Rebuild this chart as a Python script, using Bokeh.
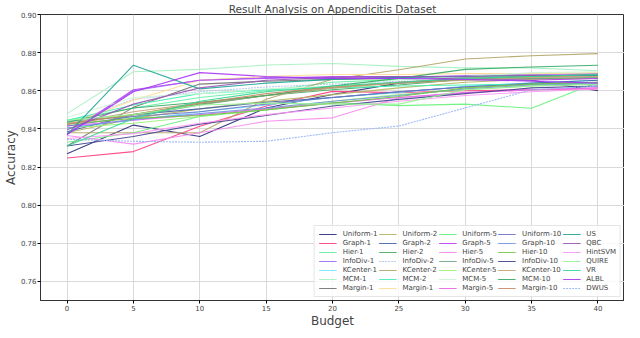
from bokeh.plotting import figure
from bokeh.models import Legend, LegendItem, FixedTicker, Range1d, NumeralTickFormatter
from bokeh.embed import file_html
from bokeh.resources import INLINE

budget = [0, 5, 10, 15, 20, 25, 30, 35, 40]

names = ["Uniform-1", "Graph-1", "Hier-1", "InfoDiv-1", "KCenter-1", "MCM-1", "Margin-1",
         "Uniform-2", "Graph-2", "Hier-2", "InfoDiv-2", "KCenter-2", "MCM-2", "Margin-1",
         "Uniform-5", "Graph-5", "Hier-5", "InfoDiv-5", "KCenter-5", "MCM-5", "Margin-5",
         "Uniform-10", "Graph-10", "Hier-10", "InfoDiv-10", "KCenter-10", "MCM-10", "Margin-10",
         "US", "QBC", "HintSVM", "QUIRE", "VR", "ALBL", "DWUS"]

colors = ["#2a2a7a", "#ff3d80", "#5ef0a0", "#9d6cf2", "#6ee6ff", "#a6f0c0", "#707070",
          "#b4b460", "#4462a8", "#44a85a", "#b0c8ec", "#b3a466", "#44f0b4", "#ffdc90",
          "#66f27a", "#b444f4", "#f488f0", "#72a884", "#96f478", "#ccf4d6", "#e866e8",
          "#7272c4", "#7494e6", "#74c446", "#42428e", "#c4a474", "#34a864", "#c68a64",
          "#22a496", "#9656b6", "#ff96f4", "#96f496", "#34d694", "#a636f4", "#94b4f6"]

acc = [
    [0.827, 0.842, 0.836, 0.851, 0.858, 0.864, 0.866, 0.8655, 0.860],
    [0.8247, 0.8281, 0.8414, 0.852, 0.8597, 0.859, 0.860, 0.8605, 0.861],
    [0.8445, 0.851, 0.8565, 0.860, 0.8645, 0.866, 0.867, 0.8675, 0.8685],
    [0.837, 0.860, 0.8655, 0.867, 0.8665, 0.867, 0.868, 0.8685, 0.869],
    [0.8405, 0.8445, 0.849, 0.8525, 0.8565, 0.859, 0.8625, 0.864, 0.8655],
    [0.848, 0.870, 0.8712, 0.8735, 0.8743, 0.8728, 0.872, 0.872, 0.8705],
    [0.831, 0.8513, 0.8635, 0.865, 0.866, 0.8665, 0.8665, 0.8665, 0.8665],
    [0.838, 0.8455, 0.8505, 0.8545, 0.858, 0.8615, 0.8645, 0.866, 0.8665],
    [0.8385, 0.8475, 0.8505, 0.854, 0.8565, 0.8595, 0.862, 0.864, 0.8655],
    [0.843, 0.8475, 0.853, 0.8575, 0.8605, 0.863, 0.866, 0.8675, 0.868],
    [0.8425, 0.8555, 0.8595, 0.862, 0.8635, 0.865, 0.866, 0.867, 0.8675],
    [0.838, 0.838, 0.838, 0.8555, 0.866, 0.871, 0.8767, 0.8784, 0.8795],
    [0.8445, 0.8525, 0.8585, 0.8605, 0.8615, 0.8625, 0.863, 0.8635, 0.864],
    [0.842, 0.855, 0.8655, 0.8675, 0.8685, 0.8685, 0.869, 0.869, 0.8695],
    [0.833, 0.838, 0.8465, 0.850, 0.8538, 0.8522, 0.853, 0.8508, 0.8645],
    [0.8375, 0.8605, 0.8655, 0.8665, 0.8675, 0.8675, 0.8665, 0.8655, 0.8665],
    [0.8365, 0.832, 0.838, 0.844, 0.8458, 0.8563, 0.859, 0.8605, 0.8615],
    [0.844, 0.8465, 0.8525, 0.8575, 0.8615, 0.8645, 0.866, 0.8665, 0.867],
    [0.8405, 0.843, 0.8465, 0.8505, 0.8545, 0.858, 0.8605, 0.8625, 0.8635],
    [0.846, 0.8565, 0.8585, 0.861, 0.8625, 0.866, 0.8675, 0.8695, 0.870],
    [0.8415, 0.8445, 0.8475, 0.8505, 0.8535, 0.8565, 0.859, 0.8605, 0.8615],
    [0.8415, 0.8465, 0.849, 0.853, 0.8565, 0.8595, 0.862, 0.8635, 0.8645],
    [0.8405, 0.845, 0.848, 0.851, 0.8545, 0.8575, 0.861, 0.863, 0.8635],
    [0.8425, 0.8455, 0.847, 0.850, 0.8535, 0.857, 0.8615, 0.8635, 0.8645],
    [0.831, 0.836, 0.8425, 0.847, 0.852, 0.8555, 0.8585, 0.8615, 0.8625],
    [0.8425, 0.849, 0.8535, 0.8575, 0.8615, 0.864, 0.8655, 0.867, 0.8675],
    [0.8435, 0.851, 0.854, 0.8575, 0.8625, 0.8665, 0.8712, 0.8725, 0.8734],
    [0.8425, 0.8475, 0.8535, 0.8585, 0.862, 0.8645, 0.8665, 0.8675, 0.868],
    [0.837, 0.8734, 0.861, 0.864, 0.866, 0.867, 0.8675, 0.868, 0.868],
    [0.8395, 0.853, 0.8615, 0.8655, 0.867, 0.8675, 0.8675, 0.868, 0.8685],
    [0.835, 0.8375, 0.843, 0.8475, 0.851, 0.8545, 0.8575, 0.8595, 0.861],
    [0.8445, 0.8475, 0.8525, 0.8535, 0.853, 0.853, 0.8605, 0.8625, 0.8635],
    [0.831, 0.8455, 0.8545, 0.8595, 0.8625, 0.8645, 0.8665, 0.8675, 0.8685],
    [0.837, 0.8595, 0.8695, 0.8675, 0.8665, 0.8665, 0.866, 0.865, 0.864],
    [0.8345, 0.8335, 0.833, 0.8335, 0.838, 0.8415, 0.851, 0.8605, 0.8625],
]

dashes = {"InfoDiv-2": "2 1", "DWUS": "2 1"}

FONT = "DejaVu Sans"

p = figure(width=624, height=330, output_backend="svg", toolbar_location=None,
           x_range=Range1d(-2, 42), y_range=Range1d(0.75, 0.90),
           min_border_left=0, min_border_right=0, min_border_top=0, min_border_bottom=0)

p.title.text = "Result Analysis on Appendicitis Dataset"
p.title.align = "center"
p.title.text_font = FONT
p.title.text_font_size = "10.5px"
p.title.text_font_style = "normal"
p.title.standoff = 0

items = []
for name, col, vals in zip(names, colors, acc):
    r = p.line(budget, vals, line_color=col, line_width=1.1, line_alpha=0.9,
               line_dash=dashes.get(name, "solid"))
    items.append(LegendItem(label=name, renderers=[r]))

legend = Legend(items=items, location="bottom_right", ncols=5)
legend.label_text_font = FONT
legend.label_text_font_size = "7px"
legend.label_height = 8
legend.glyph_height = 8
legend.glyph_width = 18
legend.spacing = 1
legend.padding = 4
legend.margin = 3
legend.label_standoff = 6
legend.border_line_color = "#cccccc"
legend.background_fill_alpha = 0.8
p.add_layout(legend)

p.xaxis.ticker = FixedTicker(ticks=budget)
p.yaxis.ticker = FixedTicker(ticks=[0.76, 0.78, 0.80, 0.82, 0.84, 0.86, 0.88, 0.90])
p.yaxis.formatter = NumeralTickFormatter(format="0.00")
p.xaxis.axis_label = "Budget"
p.yaxis.axis_label = "Accuracy"
for ax in (p.xaxis, p.yaxis):
    ax.axis_label_text_font = FONT
    ax.axis_label_text_font_size = "12px"
    ax.axis_label_text_font_style = "normal"
    ax.major_label_text_font = FONT
    ax.major_label_text_font_size = "7px"
    ax.axis_label_standoff = 0
    ax.major_label_standoff = 1
    ax.minor_tick_line_color = None
    ax.major_tick_in = 0
    ax.major_tick_out = 3
    ax.axis_line_color = "#333333"

p.grid.grid_line_color = "#d9d9d9"
p.grid.grid_line_width = 1
p.outline_line_color = "#333333"
p.outline_line_width = 1

open("out.html", "w").write(file_html(p, INLINE))
